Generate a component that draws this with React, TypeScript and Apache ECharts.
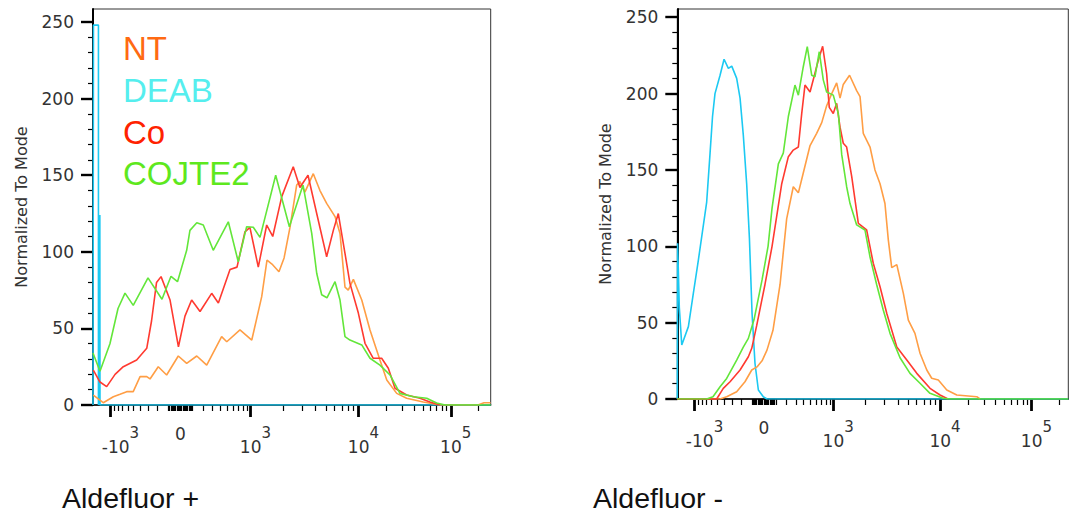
import { useEffect, useRef } from "react";
import * as echarts from "echarts";

const TICK_FONT = "'DejaVu Sans', Verdana, sans-serif";
const SANS = "'Liberation Sans', Arial, Helvetica, sans-serif";

// Biexponential display: decade anchors expressed in display channels (0..256)
const DECADE_VALUES = [-1000, 0, 1000, 10000, 100000];
const DECADE_CHANNELS = [11.2, 56.3, 101.5, 171, 230.4];
const LINEAR_WIDTH = 300;

const Y_MAJOR = [0, 50, 100, 150, 200, 250];
const Y_NAME = "Normalized To Mode";

const SAMPLES = ["NT", "DEAB", "Co", "COJTE2"];
const LINE_COLORS = ["#FF9E45", "#1CC9F2", "#FF3A30", "#63E63A"];
const LEGEND_COLORS = ["#FF6A12", "#55EEEE", "#FF2200", "#5EE81E"];

const PANEL_TITLES = ["Aldefluor +", "Aldefluor -"];

// ---------- Aldefluor + ----------
const PLUS_NT_X = [0.2, 6.6, 13.1, 17.4, 21.7, 25.9, 30.3, 34.6, 36.7, 42.0, 47.4, 54.9, 60.3, 66.8, 73.2, 82.8, 86.1, 94.6, 102.2, 108.6, 112.0, 115.2, 119.7, 123.0, 126.8, 131.1, 133.2, 136.4, 141.8, 146.1, 150.4, 155.8, 159.0, 162.2, 164.3, 167.6, 173.0, 178.3, 184.7, 189.1, 195.5, 201.9, 212.6, 223.4, 247.8, 251.7, 255.9];
const PLUS_NT_Y = [6.5, 1.5, 5.4, 7, 8.7, 8.7, 18.5, 18.5, 17, 25, 19.6, 32, 27.2, 32, 26, 44.6, 41.3, 49, 42.4, 70.7, 94.6, 92, 87, 96, 116, 143.6, 145.8, 139, 151, 140, 131.6, 123, 112, 77, 75, 82, 68.5, 49, 29.4, 16.3, 7.6, 4.4, 2, 0, 0, 1.5, 1.5];

const PLUS_DEAB_X = [0, 0.3, 3.5, 3.5, 4.4, 4.5, 256];
const PLUS_DEAB_Y = [0, 248, 248, 0, 124, 0, 0];

const PLUS_CO_X = [0.2, 4.5, 8.8, 14.2, 19.5, 28.1, 34.6, 37.7, 40.9, 43.8, 49.6, 55.0, 59.2, 63.5, 68.9, 76.4, 80.7, 88.2, 92.7, 97.8, 101.0, 106.4, 111.8, 115.7, 121.5, 128.9, 133.2, 138.4, 144.0, 150.4, 154.7, 157.9, 162.2, 165.4, 170.8, 175.1, 180.4, 185.8, 190.1, 194.4, 201.9, 210.5, 216.9, 223.4];
const PLUS_CO_Y = [22.8, 15, 12, 20, 25, 29.4, 37, 55, 80, 83.8, 68.5, 38, 58, 68.5, 61, 72.9, 66.6, 88.5, 90, 113, 116, 90, 117.5, 110, 136, 155.5, 142, 150, 125, 96.8, 114, 125, 99, 79.4, 60, 40.3, 30.5, 30.5, 24, 10.9, 6.5, 4.4, 2, 0];

const PLUS_COJTE2_X = [0, 4.5, 10.9, 16.1, 20.6, 25.9, 35.4, 44.4, 50.2, 54.4, 60.3, 62.4, 66.8, 71.0, 77.4, 87.1, 93.5, 98.9, 103.2, 107.5, 117.6, 126.4, 135.2, 140.8, 144.0, 147.2, 150.6, 155.8, 159.0, 162.2, 165.4, 173.0, 178.3, 184.7, 191.2, 197.6, 206.2, 214.8, 221.2, 226.6, 256];
const PLUS_COJTE2_Y = [34, 22, 40, 63, 73, 65, 83, 69, 84, 80.5, 101, 114, 119, 117.5, 101, 119.6, 93.5, 116.4, 116, 109.4, 150, 116.4, 143.6, 112, 86, 72, 70, 80.5, 68.5, 44.6, 42.4, 39.2, 30.5, 26, 19.6, 7.6, 5.4, 4.4, 1.3, 0, 0];

// ---------- Aldefluor - ----------
const MINUS_NT_X = [0, 27.8, 32.1, 38.6, 44.0, 48.4, 51.8, 55.1, 58.3, 62.2, 66.8, 71.1, 75.4, 78.7, 81.9, 86.3, 90.6, 93.9, 97.1, 100.4, 103.6, 105.8, 107.9, 112.0, 116.6, 118.8, 120.9, 125.3, 128.5, 131.8, 135.0, 137.2, 139.4, 142.7, 147.0, 150.2, 154.5, 157.8, 162.2, 165.4, 169.7, 175.2, 181.7, 194.7, 196.8];
const MINUS_NT_Y = [0, 0, 1.5, 4.8, 11.3, 19, 21, 25, 32, 45, 75, 118, 139, 135, 148, 166, 174, 181, 192, 200, 207, 197, 206, 212, 202, 198, 174, 165, 150, 141, 128, 104, 86, 88, 69, 51.7, 43, 30, 19, 13.6, 12.4, 5.9, 2.6, 1.5, 0];

const MINUS_DEAB_X = [0, 0.2, 1.3, 2.9, 7.2, 10.4, 13.7, 19.1, 21.3, 22.9, 24.5, 27.8, 30.4, 33.2, 35.4, 38.6, 40.8, 42.9, 45.1, 46.9, 48.6, 50.5, 52.7, 55.9, 58.3, 254.2];
const MINUS_DEAB_Y = [0, 102, 60, 35.4, 47.4, 69, 91, 129, 161, 185, 200, 212, 222.5, 216.5, 218, 210, 197, 173, 141, 105, 56, 23.4, 5.9, 1.5, 0, 0];

const MINUS_CO_X = [0, 25.6, 29.9, 34.3, 40.8, 46.2, 48.4, 51.6, 57.0, 61.6, 67.9, 72.2, 75.4, 78.7, 80.9, 83.0, 86.3, 88.9, 91.7, 94.5, 97.1, 98.8, 101.4, 103.6, 105.8, 107.9, 110.1, 113.4, 117.7, 123.1, 127.4, 131.8, 136.2, 142.7, 149.2, 155.7, 164.3, 170.8, 176.0];
const MINUS_CO_Y = [0, 0, 7, 11.3, 19, 27.7, 33.2, 48, 75, 100, 141, 158.7, 163, 165, 187, 205.6, 201, 211, 222, 231, 213, 191, 187, 193.6, 178, 167.5, 165, 145.6, 115, 110.7, 88.9, 73.5, 56, 34, 25.5, 16.8, 7, 2.6, 0];

const MINUS_COJTE2_X = [0, 19.1, 23.2, 27.8, 32.1, 38.6, 42.9, 46.2, 49.9, 55.1, 59.0, 61.6, 65.7, 68.9, 72.2, 76.5, 78.7, 81.9, 84.5, 87.4, 89.5, 92.3, 94.9, 97.1, 101.4, 104.7, 106.9, 110.1, 112.3, 116.6, 122.0, 125.3, 129.6, 133.9, 138.3, 144.8, 151.3, 157.8, 164.3, 172.8, 177.3, 254.2];
const MINUS_COJTE2_Y = [0, 0, 1.5, 8, 13.5, 25.5, 34, 39.7, 52, 78, 100, 125, 154, 161, 185, 205.6, 199, 217.6, 230.7, 212, 211, 227.4, 209, 201, 199, 187, 160, 139, 128, 114, 110.7, 93, 75, 58.3, 43, 27, 16.8, 10.3, 3.7, 0.5, 0, 0];

const PANELS = [
  {
    grid: { left: 93, top: 9, width: 397.7, height: 396 },
    xMax: 256,
    yMax: 258.5,
    series: [
      [PLUS_NT_X, PLUS_NT_Y],
      [PLUS_DEAB_X, PLUS_DEAB_Y],
      [PLUS_CO_X, PLUS_CO_Y],
      [PLUS_COJTE2_X, PLUS_COJTE2_Y],
    ],
  },
  {
    grid: { left: 677.3, top: 9, width: 391, height: 390 },
    xMax: 254.2,
    yMax: 255.4,
    series: [
      [MINUS_NT_X, MINUS_NT_Y],
      [MINUS_DEAB_X, MINUS_DEAB_Y],
      [MINUS_CO_X, MINUS_CO_Y],
      [MINUS_COJTE2_X, MINUS_COJTE2_Y],
    ],
  },
];

// value -> display channel on the biexponential scale
function toChannel(v: number): number {
  const [cNeg, c0, c3, c4, c5] = DECADE_CHANNELS;
  const a = Math.abs(v);
  if (a < 1000) {
    const half = v < 0 ? c0 - cNeg : c3 - c0;
    return c0 + Math.sign(v) * half * Math.asinh(a / LINEAR_WIDTH) / Math.asinh(1000 / LINEAR_WIDTH);
  }
  const lg = Math.log10(a);
  if (v < 0) return cNeg - (lg - 3) * (c4 - c3);
  if (lg <= 4) return c3 + (lg - 3) * (c4 - c3);
  return c4 + (lg - 4) * (c5 - c4);
}

function minorChannels(max: number): number[] {
  const out: number[] = [toChannel(0)];
  for (const d of [10, 100, 1000, 10000, 100000]) {
    for (let m = d >= 1000 ? 2 : 1; m <= 9; m++) {
      for (const s of [1, -1]) {
        const c = toChannel(s * m * d);
        if (c > 0.5 && c < max - 0.5) out.push(c);
      }
    }
  }
  return out;
}

function yMinor(): number[] {
  const out: number[] = [];
  for (let v = 10; v < 250; v += 10) if (v % 50 !== 0) out.push(v);
  return out;
}

function decadeLabel(val: number): string {
  const i = DECADE_CHANNELS.findIndex((c) => Math.abs(c - val) < 1e-3);
  if (i < 0) return "";
  const v = DECADE_VALUES[i];
  if (v === 0) return "{lh| }{zero|0}{lh| }";
  const exp = Math.round(Math.log10(Math.abs(v)));
  return v < 0 ? `{negpad| }{base|-10}{sup|${exp}}` : `{pad| }{base|10}{sup|${exp}}`;
}

const labelRich = {
  pad: { width: 9.5, lineHeight: 30 },
  negpad: { width: 20, lineHeight: 30 },
  lh: { width: 1, lineHeight: 30 },
  base: { fontSize: 17, lineHeight: 17, verticalAlign: "bottom", color: "#333", fontFamily: TICK_FONT },
  sup: { fontSize: 15, lineHeight: 15, verticalAlign: "top", color: "#333", fontFamily: TICK_FONT },
  zero: { fontSize: 17, lineHeight: 17, verticalAlign: "top", color: "#333", fontFamily: TICK_FONT },
};

// an extra axis that only draws tick marks at the given values
function tickAxis(gi: number, max: number, position: string, values: number[], length: number, width: number) {
  return {
    type: "value", gridIndex: gi, min: 0, max, position,
    axisLine: { show: false, onZero: false },
    axisTick: { show: true, length, lineStyle: { color: "#000", width }, customValues: values.slice() },
    axisLabel: { show: false },
    splitLine: { show: false },
  };
}

function buildOption() {
  const grid: any[] = [];
  const xAxis: any[] = [];
  const yAxis: any[] = [];
  const series: any[] = [];

  PANELS.forEach((p, gi) => {
    grid.push({ ...p.grid, show: true, borderColor: "#333", borderWidth: 1 });

    const xIdx = xAxis.length;
    xAxis.push({
      type: "value", gridIndex: gi, min: 0, max: p.xMax, position: "bottom",
      axisLine: { show: true, onZero: false, lineStyle: { color: "#000", width: 1.5 } },
      axisTick: { show: false },
      axisLabel: {
        show: true, margin: 20, customValues: DECADE_CHANNELS.slice(),
        formatter: (v: number) => decadeLabel(v), rich: labelRich,
      },
      splitLine: { show: false },
    });
    xAxis.push(tickAxis(gi, p.xMax, "bottom", DECADE_CHANNELS.filter((_, i) => DECADE_VALUES[i] !== 0), 12, 2.8));
    xAxis.push(tickAxis(gi, p.xMax, "bottom", minorChannels(p.xMax), 6, 1.2));

    const yIdx = yAxis.length;
    yAxis.push({
      type: "value", gridIndex: gi, min: 0, max: p.yMax, position: "left",
      axisLine: { show: true, onZero: false, lineStyle: { color: "#000", width: 2 } },
      axisTick: { show: false },
      axisLabel: { show: true, margin: 19, customValues: Y_MAJOR.slice(), fontSize: 17, color: "#333", fontFamily: TICK_FONT },
      name: Y_NAME, nameLocation: "middle", nameGap: 64, nameRotate: 90,
      nameTextStyle: { fontSize: 16, color: "#333", fontFamily: TICK_FONT },
      splitLine: { show: false },
    });
    yAxis.push(tickAxis(gi, p.yMax, "left", Y_MAJOR, 12, 2.4));
    yAxis.push(tickAxis(gi, p.yMax, "left", yMinor(), 5, 1.2));

    // draw DEAB first, then NT, Co and COJTE2 on top
    [1, 0, 2, 3].forEach((si) => {
      const [xs, ys] = p.series[si];
      series.push({
        name: SAMPLES[si],
        type: "line",
        xAxisIndex: xIdx,
        yAxisIndex: yIdx,
        data: xs.map((x, k) => [x, ys[k]]),
        showSymbol: false,
        symbol: "none",
        lineStyle: { color: LINE_COLORS[si], width: 1.6 },
        itemStyle: { color: LINE_COLORS[si] },
        z: 3,
      });
    });
  });

  const legendTops = [32, 74, 116, 157];
  const graphic: any[] = SAMPLES.map((name, i) => ({
    type: "text",
    x: 123,
    y: legendTops[i],
    style: { text: name, fontSize: 33, fontFamily: SANS, fill: LEGEND_COLORS[i] },
  }));
  graphic.push(
    { type: "text", x: 62, y: 483, style: { text: PANEL_TITLES[0], fontSize: 28.5, fontFamily: SANS, fill: "#111" } },
    { type: "text", x: 593, y: 483, style: { text: PANEL_TITLES[1], fontSize: 28.5, fontFamily: SANS, fill: "#111" } },
  );

  return { animation: false, backgroundColor: "#fff", grid, xAxis, yAxis, series, graphic };
}

export default function App() {
  const ref = useRef<HTMLDivElement>(null);
  useEffect(() => {
    if (!ref.current) return;
    const chart = echarts.init(ref.current, undefined, { renderer: "svg" });
    chart.setOption(buildOption() as any);
    return () => chart.dispose();
  }, []);
  return (
    <div
      ref={ref}
      style={{ position: "absolute", left: 0, top: 0, width: 1070, height: 513, background: "#fff" }}
    />
  );
}
